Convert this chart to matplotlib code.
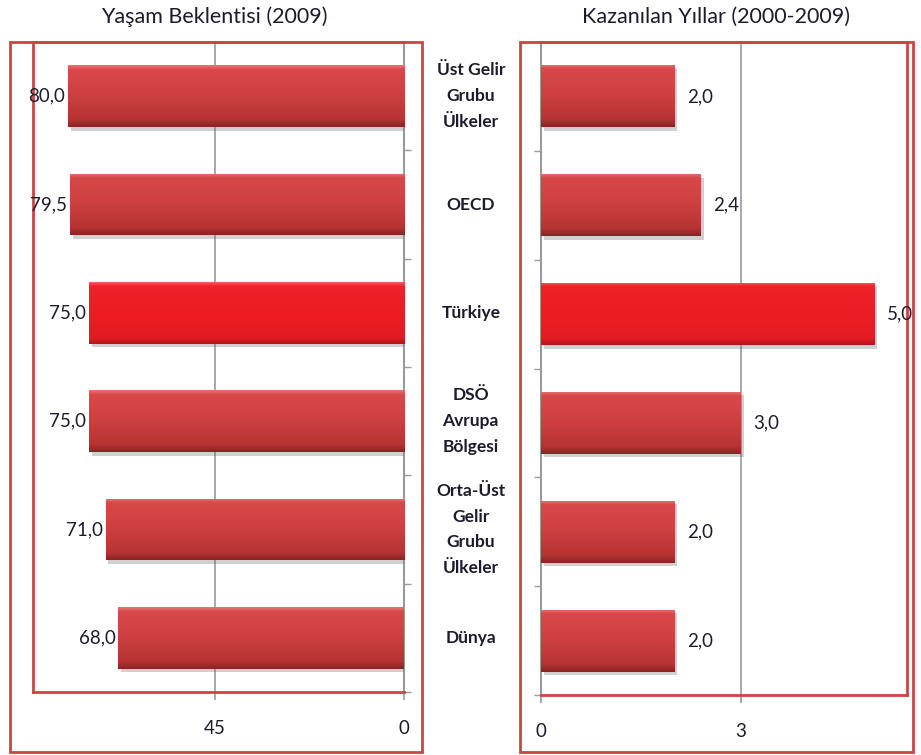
import numpy as np
import matplotlib
matplotlib.use("Agg")
import matplotlib.pyplot as plt
import matplotlib.patheffects as pe
from matplotlib.colors import LinearSegmentedColormap
from matplotlib.patches import Rectangle

plt.rcParams['font.family'] = ['Lato', 'DejaVu Sans']

# veriler
categories = ['Üst Gelir\nGrubu\nÜlkeler', 'OECD', 'Türkiye',
              'DSÖ\nAvrupa\nBölgesi', 'Orta-Üst\nGelir\nGrubu\nÜlkeler', 'Dünya']
life_exp = [80.0, 79.5, 75.0, 75.0, 71.0, 68.0]
years_gained = [2.0, 2.4, 5.0, 3.0, 2.0, 2.0]
highlight = 'Türkiye'

title_left = 'Yaşam Beklentisi (2009)'
title_right = 'Kazanılan Yıllar (2000-2009)'

FRAME = '#cc4444'
GRID = '#9a9a9a'
TEXT = '#1c1c2c'

dark_cmap = LinearSegmentedColormap.from_list(
    'dark', [(0, '#e87070'), (0.07, '#d84848'), (0.45, '#cf4141'),
             (0.88, '#b73434'), (1, '#8a2424')])
bright_cmap = LinearSegmentedColormap.from_list(
    'bright', [(0, '#f45a5e'), (0.06, '#ee2229'), (0.5, '#ed1c24'),
               (0.9, '#e41b23'), (1, '#b5161c')])


def fmt(v):
    return f'{v:.1f}'.replace('.', ',')


def draw_bars(ax, values):
    y = np.arange(len(values))
    bars = ax.barh(y, values, height=0.57, color='#c0393b', zorder=3)
    for b, cat in zip(bars, categories):
        b.set_path_effects([pe.SimplePatchShadow(offset=(2, -2.5), alpha=0.3,
                                                 shadow_rgbFace='#666666'),
                            pe.Normal()])
        x0, y0 = b.get_x(), b.get_y()
        w, h = b.get_width(), b.get_height()
        cmap = bright_cmap if cat == highlight else dark_cmap
        grad = np.linspace(0, 1, 64).reshape(-1, 1)
        im = ax.imshow(grad, cmap=cmap, aspect='auto', zorder=4,
                       extent=(x0, x0 + w, y0 + h, y0), interpolation='bilinear')
        im.set_clip_path(b)
    ax.set_ylim(len(values) - 0.5, -0.5)
    ax.set_yticks([])
    ax.set_yticks(np.arange(len(values) + 1) - 0.5, minor=True)
    ax.tick_params(axis='y', which='minor', length=5, color=GRID, width=1)
    ax.tick_params(axis='x', length=6, color=GRID, width=1.2,
                   labelsize=13.5, labelcolor=TEXT, pad=14)
    ax.grid(axis='x', color=GRID, lw=1.2, zorder=0)
    ax.set_axisbelow(True)
    return bars


fig = plt.figure(figsize=(9.21, 7.55), dpi=100)
W, H = 921, 755

# sol panel
axL = fig.add_axes([33 / W, 1 - 692 / H, (404 - 33) / W, (692 - 42) / H])
draw_bars(axL, life_exp)
axL.set_xlim(88.3, 0)
axL.set_xticks([45, 0])
axL.yaxis.set_ticks_position('right')
for s in ['left', 'top', 'bottom']:
    axL.spines[s].set_color(FRAME)
    axL.spines[s].set_linewidth(2)
axL.spines['right'].set_color(GRID)
axL.spines['right'].set_linewidth(1.5)
for i, v in enumerate(life_exp):
    axL.annotate(fmt(v), (v, i), xytext=(-2, 0), textcoords='offset points',
                 ha='right', va='center', fontsize=13.5, color=TEXT, zorder=6)

# sağ panel
axR = fig.add_axes([541 / W, 1 - 695 / H, (907 - 541) / W, (695 - 42) / H])
draw_bars(axR, years_gained)
axR.set_xlim(0, 5.49)
axR.set_xticks([0, 3])
for s in ['right', 'top', 'bottom']:
    axR.spines[s].set_color(FRAME)
    axR.spines[s].set_linewidth(2)
axR.spines['left'].set_color(GRID)
axR.spines['left'].set_linewidth(1.5)
for i, v in enumerate(years_gained):
    axR.annotate(fmt(v), (v, i), xytext=(9, 0), textcoords='offset points',
                 ha='left', va='center', fontsize=13.5, color=TEXT, zorder=6)

# kategori etiketleri (ortada)
for i, cat in enumerate(categories):
    axL.text(1.18, i, cat, transform=axL.get_yaxis_transform(),
             ha='center', va='center', fontsize=12.5, fontweight='bold',
             color=TEXT, linespacing=1.75)

# başlıklar
fig.text(214 / W, 1 - 17 / H, title_left, ha='center', va='center',
         fontsize=15.5, color=TEXT)
fig.text(716 / W, 1 - 17 / H, title_right, ha='center', va='center',
         fontsize=15.5, color=TEXT)

# dış çerçeveler
fig.patches.append(Rectangle((10 / W, 1 - 752 / H), 412 / W, 710 / H,
                             transform=fig.transFigure, fill=False,
                             ec=FRAME, lw=2))
fig.patches.append(Rectangle((520 / W, 1 - 752 / H), 393 / W, 710 / H,
                             transform=fig.transFigure, fill=False,
                             ec=FRAME, lw=2))

fig.savefig('out.png', dpi=100)
